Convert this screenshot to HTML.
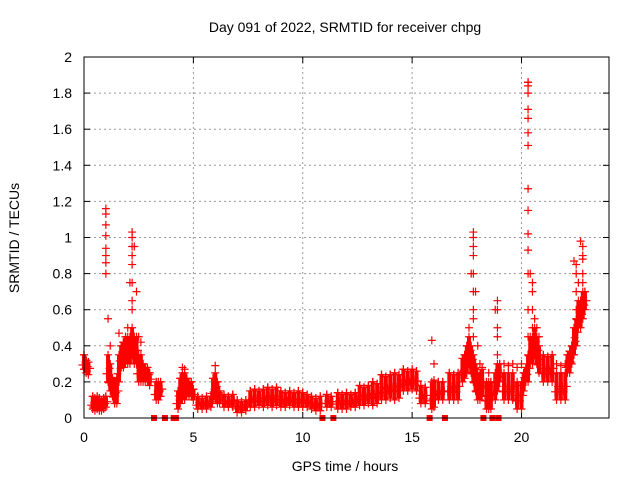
<!DOCTYPE html>
<html><head><meta charset="utf-8"><style>
body{margin:0;background:#fff;}
svg{display:block;font-family:"Liberation Sans",sans-serif;}
</style></head><body>
<svg id="chart" width="640" height="480">
<text x="345" y="32" text-anchor="middle" font-size="14">Day 091 of 2022, SRMTID for receiver chpg</text>
<text x="345" y="471" text-anchor="middle" font-size="14">GPS time / hours</text>
<text transform="translate(19,238) rotate(-90)" text-anchor="middle" font-size="14">SRMTID / TECUs</text>
<g id="grid"></g><g id="ticks"></g><g id="marks"></g>
<rect x="84" y="57" width="525" height="361" fill="none" stroke="#000" stroke-width="1"/>
</svg>
<script>
const xTicks=[0,5,10,15,20];
const yTicks=[0,0.2,0.4,0.6,0.8,1,1.2,1.4,1.6,1.8,2];
const yTickLabels=["0","0.2","0.4","0.6","0.8","1","1.2","1.4","1.6","1.8","2"];
const times=[
0,.1,.2,.4,.5,.6,.7,.8,.9,1.0,
1.1,1.2,1.3,1.4,1.5,1.6,1.7,1.8,1.9,2.0,
2.1,2.2,2.3,2.4,2.5,2.6,2.7,2.8,2.9,3.0,
3.3,3.4,3.5,4.3,4.4,4.5,4.6,4.7,4.8,4.9,
5.0,5.2,5.4,5.6,5.8,5.9,6.0,6.1,6.2,6.4,
6.6,6.8,7.0,7.2,7.4,7.6,7.8,8.0,8.2,8.4,
8.6,8.8,9.0,9.2,9.4,9.6,9.8,10.0,10.2,10.4,
10.6,10.8,11.1,11.3,11.6,11.8,12.0,12.2,12.4,12.6,
12.8,13.0,13.2,13.4,13.6,13.8,14.0,14.2,14.4,14.6,
14.8,15.0,15.2,15.4,15.6,15.9,16.0,16.2,16.4,16.7,
16.9,17.1,17.3,17.4,17.5,17.6,17.7,17.8,17.9,18.0,
18.1,18.2,18.4,18.5,18.6,18.8,18.9,19.0,19.2,19.4,
19.6,19.8,20.0,20.1,20.2,20.3,20.4,20.5,20.6,20.7,
20.8,21.0,21.2,21.4,21.6,21.8,22.0,22.1,22.2,22.3,
22.4,22.5,22.6,22.7,22.8,22.9];
const lo=[
.27,.25,.24,.05,.04,.05,.04,.04,.05,.06,
.2,.15,.12,.08,.08,.2,.28,.28,.3,.3,
.3,.35,.3,.3,.2,.2,.2,.2,.2,.18,
.1,.1,.12,.05,.08,.1,.1,.12,.12,.12,
.1,.05,.05,.05,.06,.1,.1,.08,.08,.06,
.06,.06,.03,.03,.04,.06,.06,.07,.06,.07,
.06,.07,.06,.06,.07,.06,.06,.06,.06,.05,
.04,.04,.06,.06,.05,.05,.05,.06,.06,.07,
.07,.08,.07,.08,.1,.1,.11,.1,.11,.15,
.15,.16,.15,.08,.08,.05,.06,.1,.1,.1,
.1,.1,.2,.22,.25,.3,.25,.2,.15,.1,
.1,.12,.05,.05,.05,.1,.15,.2,.1,.1,
.1,.05,.05,.15,.2,.2,.3,.3,.35,.3,
.25,.2,.2,.2,.1,.1,.1,.25,.25,.3,
.35,.4,.5,.5,.55,.6];
const hi=[
.35,.32,.31,.12,.11,.12,.11,.10,.11,.12,
.55,.4,.22,.2,.22,.47,.4,.42,.45,.5,
.75,1.03,.95,.7,.45,.42,.3,.28,.28,.25,
.2,.2,.2,.15,.22,.28,.27,.22,.2,.2,
.16,.12,.11,.12,.12,.22,.29,.2,.15,.13,
.12,.13,.1,.09,.1,.15,.16,.15,.16,.17,
.16,.17,.15,.14,.15,.14,.15,.14,.13,.12,
.11,.12,.13,.12,.14,.13,.14,.13,.14,.18,
.17,.18,.2,.19,.24,.23,.24,.25,.24,.27,
.26,.27,.26,.18,.17,.43,.3,.2,.2,.25,
.24,.25,.33,.35,.4,.5,.8,1.03,.7,.4,
.3,.28,.2,.25,.2,.6,.65,.3,.3,.29,
.3,.28,.3,.25,.28,1.86,.8,.75,.55,.5,
.45,.35,.34,.35,.3,.29,.3,.35,.37,.4,
.87,.85,.75,.98,.9,.7];
const spikeT=[1,1,1,1,1,1,1,1,2.2,2.2,2.2,2.2,2.2,2.2,2.2,17.8,17.8,17.8,17.8,17.8,17.8,17.8,17.8,18.9,18.9,18.9,18.9,20.3,20.3,20.3,20.3,20.3,20.3,20.3,20.3,20.3,20.3,20.3,20.3,20.3,20.3,20.5,20.5,20.5,22.5,22.5,22.5,22.5,22.8,22.8,22.8,22.8,22.8];
const spikeV=[.8,.86,.9,.94,1.01,1.07,1.13,1.16,.6,.65,.75,.85,.9,.95,1,.45,.55,.6,.7,.8,.9,.95,1,.35,.45,.5,.6,.45,.6,.8,.93,1.02,1.15,1.27,1.51,1.58,1.66,1.71,1.8,1.84,1.86,.5,.6,.7,.5,.6,.7,.8,.65,.75,.8,.88,.95];
const zeroT=[3.2,3.7,4.1,4.2,10.9,11.4,15.8,16.5,18.26,18.67,18.95];
const NS='http://www.w3.org/2000/svg';
const X=t=>84+t*(525/24), Y=v=>418-v*(361/2);
function mk(tag,attrs,parent){const e=document.createElementNS(NS,tag);for(const k in attrs)e.setAttribute(k,attrs[k]);parent.appendChild(e);return e;}
const grid=document.getElementById('grid'),ticks=document.getElementById('ticks'),marks=document.getElementById('marks');
xTicks.forEach((t,i)=>{
 if(t>0){const g=mk('line',{x1:X(t),x2:X(t),y1:57,y2:418,stroke:'#999','stroke-dasharray':'2,3'},grid);
 
 }
 mk('line',{x1:X(t),x2:X(t),y1:418,y2:412,stroke:'#000'},ticks);
 mk('line',{x1:X(t),x2:X(t),y1:57,y2:63,stroke:'#000'},ticks);
 const l=mk('text',{x:X(t),y:442,'text-anchor':'middle','font-size':14},ticks);l.textContent=t;
 
 
});
yTicks.forEach((v,i)=>{
 if(v>0&&v<2){const g=mk('line',{x1:84,x2:609,y1:Y(v),y2:Y(v),stroke:'#999','stroke-dasharray':'2,3'},grid);
 
 }
 mk('line',{x1:84,x2:90,y1:Y(v),y2:Y(v),stroke:'#000'},ticks);
 mk('line',{x1:609,x2:603,y1:Y(v),y2:Y(v),stroke:'#000'},ticks);
 const l=mk('text',{x:72,y:Y(v)+5,'text-anchor':'end','font-size':14},ticks);l.textContent=yTickLabels[i];
 
 
});
function plus(t,v){const x=X(t),y=Y(v);
 const p=mk('path',{d:`M${x-4},${y}h8M${x},${y-4}v8`,stroke:'#f00','stroke-width':1.2,fill:'none'},marks);
 
 }
times.forEach((t,i)=>{const l=lo[i],h=hi[i];
 const top=Math.min(h,l+0.15);
 const b=mk('line',{x1:X(t),x2:X(t),y1:Y(l),y2:Y(top),stroke:'#f00','stroke-width':4},marks);
 
 
 plus(t,l);plus(t,top);plus(t,h);
 plus(t+0.07,(l+top)/2);plus(t-0.07,l+(top-l)*0.3);});
spikeT.forEach((t,i)=>plus(t,spikeV[i]));
zeroT.forEach(t=>{const r=mk('rect',{x:X(t)-3,y:415,width:6,height:6,fill:'#f00'},marks);
 
 });
</script>
</body></html>
